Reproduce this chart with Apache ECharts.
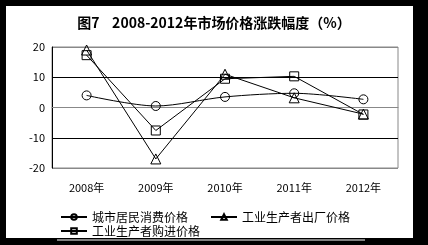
<!DOCTYPE html>
<html><head><meta charset="utf-8">
<script src="https://cdn.jsdelivr.net/npm/echarts@6/dist/echarts.min.js"></script>
<style>html,body{margin:0;padding:0;background:#000;}#c{width:428px;height:245px;}</style>
</head><body><div id="c"></div>
<script>
var categories = ['2008年', '2009年', '2010年', '2011年', '2012年'];
var cpi = [4.0, 0.5, 3.5, 4.7, 2.7];
var ppi = [19.0, -17.0, 11.0, 3.2, -2.2];
var purchase = [17.3, -7.6, 9.5, 10.3, -2.3];
var yTicks = [-20, -10, 0, 10, 20];
var names = ['城市居民消费价格', '工业生产者出厂价格', '工业生产者购进价格'];

var chart = echarts.init(document.getElementById('c'));
var font = '"Noto Sans CJK SC", "DejaVu Sans", sans-serif';
function line(name, data, symbol, size, smooth) {
  return {
    name: name, type: 'line', data: data, symbol: symbol, symbolSize: size,
    smooth: smooth, z: 3,
    lineStyle: {color: '#000', width: 1},
    itemStyle: {color: 'rgba(255,255,255,0)', borderColor: '#000', borderWidth: 1},
    emphasis: {disabled: true}
  };
}
var legendText = {fontFamily: font, fontSize: 12, color: '#000'};
chart.setOption({
  backgroundColor: '#000',
  animation: false,
  graphic: [
    {type: 'rect', z: -10, silent: true, shape: {x: 6, y: 6, width: 407, height: 232}, style: {fill: '#fff'}},
    {type: 'line', z: -10, silent: true, shape: {x1: 57, y1: 240, x2: 365, y2: 240}, style: {stroke: '#fff', lineWidth: 1}}
  ],
  title: {
    text: '图7    2008-2012年市场价格涨跌幅度（%）',
    left: 'center', top: 11,
    textStyle: {fontFamily: font, fontSize: 14, fontWeight: 'bold', color: '#000'}
  },
  grid: {left: 52, top: 47, width: 346, height: 121, show: true, borderColor: '#888', borderWidth: 1, backgroundColor: 'transparent'},
  legend: [
    {left: 60, top: 211, itemWidth: 26, itemHeight: 7, itemGap: 22, padding: 0,
     textStyle: legendText, data: [names[0], names[1]]},
    {left: 60, top: 225, itemWidth: 26, itemHeight: 7, padding: 0,
     textStyle: legendText, data: [names[2]]}
  ],
  xAxis: {
    type: 'category', data: categories, boundaryGap: true,
    axisLine: {show: true, lineStyle: {color: '#888'}},
    axisTick: {show: false},
    axisLabel: {fontFamily: font, fontSize: 11, color: '#000', margin: 14},
    splitLine: {show: false}
  },
  yAxis: {
    type: 'value', min: yTicks[0], max: yTicks[yTicks.length - 1], interval: 10,
    axisLine: {show: true, lineStyle: {color: '#000'}},
    axisTick: {show: false},
    axisLabel: {fontFamily: font, fontSize: 11, color: '#000', margin: 7},
    splitLine: {show: true, lineStyle: {color: ['#888', '#000', '#000', '#000', '#888'], width: 1}}
  },
  series: [
    line(names[0], cpi, 'circle', 9, 0.3),
    line(names[1], ppi, 'triangle', 10, false),
    line(names[2], purchase, 'rect', 9, false)
  ]
});
</script></body></html>
